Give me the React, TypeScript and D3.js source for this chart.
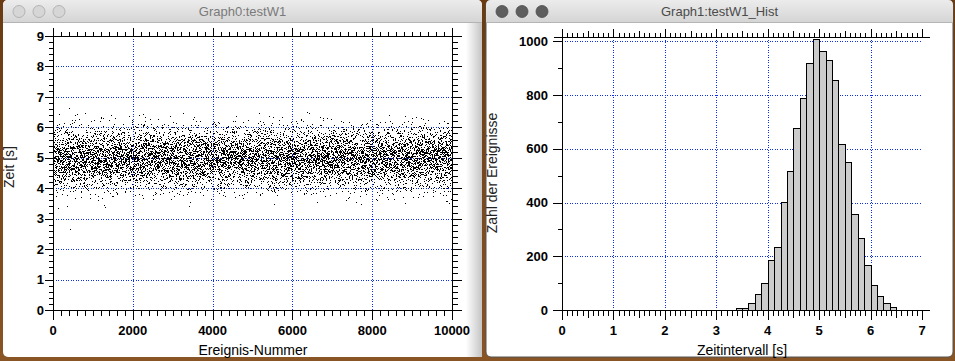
import React, { useMemo } from "react";
import * as d3 from "d3";

// ---- data ----
// histogram: counts per 0.125 s bin starting at 3.375 s
const histBinStarts = [3.375, 3.5, 3.625, 3.75, 3.875, 4.0, 4.125, 4.25, 4.375, 4.5, 4.625, 4.75, 4.875, 5.0, 5.125, 5.25, 5.375, 5.5, 5.625, 5.75, 5.875, 6.0, 6.125, 6.25, 6.375];
const histCounts = [6, 9, 27, 60, 101, 187, 235, 403, 516, 679, 790, 921, 1010, 965, 929, 857, 619, 552, 359, 269, 168, 94, 53, 27, 13];
const histBinWidth = 0.125;
// a few isolated scatter points visible outside the histogram range
const outlierIndex = [426, 400, 125];
const outlierValue = [2.66, 6.63, 3.36];
const eventCount = 10000;

const leftXTicks = [0, 2000, 4000, 6000, 8000, 10000];
const leftYTicks = [0, 1, 2, 3, 4, 5, 6, 7, 8, 9];
const rightXTicks = [0, 1, 2, 3, 4, 5, 6, 7];
const rightYTicks = [0, 200, 400, 600, 800, 1000];

const FONT = "'Liberation Sans', Arial, Helvetica, sans-serif";
const GRID = "#0a2fe6";

// Scatter values come from the histogram bins (each bin's count spread across it),
// placed in a fixed, seeded order along the event number.
function buildScatter() {
  const vals: number[] = [];
  histCounts.forEach((c, i) => {
    for (let k = 0; k < c; k++) vals.push(histBinStarts[i] + ((k + 0.5) / c) * histBinWidth);
  });
  let s = 12345;
  const rnd = () => {
    s |= 0; s = (s + 0x6d2b79f5) | 0;
    let t = Math.imul(s ^ (s >>> 15), 1 | s);
    t = (t + Math.imul(t ^ (t >>> 7), 61 | t)) ^ t;
    return ((t ^ (t >>> 14)) >>> 0) / 4294967296;
  };
  for (let i = vals.length - 1; i > 0; i--) {
    const j = Math.floor(rnd() * (i + 1));
    const tmp = vals[i]; vals[i] = vals[j]; vals[j] = tmp;
  }
  const pts = vals.map((v, k) => ({ i: (k * eventCount) / vals.length, v }));
  outlierIndex.forEach((idx, k) => pts.push({ i: idx, v: outlierValue[k] }));
  return pts;
}

type AxisProps = {
  orient: "bottom" | "top" | "left" | "right";
  scale: d3.ScaleLinear<number, number>;
  pos: number;
  majors: number[];
  minors: number[];
  mediums?: number[];
  labels?: boolean;
  majorLen?: number;
};

function Axis({ orient, scale, pos, majors, minors, mediums = [], labels = false, majorLen = 9 }: AxisProps) {
  const [r0, r1] = scale.range();
  const lo = Math.min(r0, r1) - 8;
  const hi = Math.max(r0, r1) + 8;
  const horiz = orient === "bottom" || orient === "top";
  const sign = orient === "bottom" || orient === "right" ? 1 : -1;
  const p = Math.round(pos) + 0.5;
  const tick = (v: number, len: number, key: string) => {
    const t = Math.round(scale(v)) + 0.5;
    return horiz ? (
      <line key={key} x1={t} x2={t} y1={p} y2={p + sign * len} stroke="#000" />
    ) : (
      <line key={key} y1={t} y2={t} x1={p} x2={p + sign * len} stroke="#000" />
    );
  };
  return (
    <g shapeRendering="crispEdges">
      {horiz ? (
        <line x1={lo} x2={hi} y1={p} y2={p} stroke="#000" />
      ) : (
        <line y1={lo} y2={hi} x1={p} x2={p} stroke="#000" />
      )}
      {minors.map((v, k) => tick(v, 5, "mi" + k))}
      {mediums.map((v, k) => tick(v, 7, "me" + k))}
      {majors.map((v, k) => tick(v, majorLen, "ma" + k))}
      {labels &&
        majors.map((v, k) =>
          horiz ? (
            <text key={"l" + k} x={scale(v)} y={pos + 25} textAnchor="middle" fontFamily={FONT} fontWeight="bold" fontSize={13} fill="#000">
              {v}
            </text>
          ) : null
        )}
    </g>
  );
}

function TitleBar({ x, w, title, active }: { x: number; w: number; title: string; active: boolean }) {
  const lights = [16, 36, 56];
  return (
    <g>
      <path d={`M${x},22 L${x},5 Q${x},0 ${x + 5},0 L${x + w - 5},0 Q${x + w},0 ${x + w},5 L${x + w},22 Z`} fill="url(#tbar)" />
      <line x1={x} x2={x + w} y1={22.5} y2={22.5} stroke="#b4b4b4" />
      {lights.map((cx, k) => (
        <circle key={k} cx={x + cx} cy={11.5} r={6} fill={active ? "#5e5e5e" : "#d6d6d6"} stroke={active ? "#4c4c4c" : "#a8a8a8"} strokeWidth={0.8} />
      ))}
      <text x={x + w / 2} y={16} textAnchor="middle" fontFamily={FONT} fontSize={13} fill={active ? "#4a4a4a" : "#7a7a7a"}>
        {title}
      </text>
    </g>
  );
}

export default function App() {
  const scatter = useMemo(buildScatter, []);

  // left graph
  const lx = d3.scaleLinear().domain([0, 10000]).range([53, 452]);
  const ly = d3.scaleLinear().domain([0, 9]).range([310, 36]);
  const lxMinor = d3.range(0, 10001, 200).filter((v) => v % 2000 !== 0);
  const lyMinor = d3.range(0, 45).map((k) => k * 0.2).filter((v, k) => k % 5 !== 0);

  // right graph
  const rx = d3.scaleLinear().domain([0, 7]).range([562, 922]);
  const ry = d3.scaleLinear().domain([0, 1016]).range([310, 37]);
  const rxMinor = d3.range(0, 71).filter((k) => k % 5 !== 0).map((k) => k / 10);
  const rxMed = d3.range(0, 7).map((k) => k + 0.5);
  const ryMinor = d3.range(100, 1016, 200);

  return (
    <div style={{ position: "absolute", left: 0, top: 0, width: 955, height: 361 }}>
      <svg width={955} height={361} style={{ display: "block" }}>
        <defs>
          <linearGradient id="tbar" x1="0" x2="0" y1="0" y2="1">
            <stop offset="0" stopColor="#ececec" />
            <stop offset="1" stopColor="#d5d5d5" />
          </linearGradient>
          <linearGradient id="edge" x1="0" x2="1" y1="0" y2="0">
            <stop offset="0" stopColor="#ffffff" />
            <stop offset="1" stopColor="#c4c4c4" />
          </linearGradient>
          <linearGradient id="desk" x1="0" x2="0" y1="0" y2="1">
            <stop offset="0" stopColor="#6a3a12" />
            <stop offset="1" stopColor="#8a5524" />
          </linearGradient>
        </defs>
        <rect x={0} y={0} width={955} height={361} fill="url(#desk)" />

        {/* left window */}
        <rect x={3} y={0} width={479} height={357} rx={5} fill="#ffffff" />
        <rect x={466} y={22} width={16} height={335} fill="url(#edge)" />
        <TitleBar x={3} w={479} title="Graph0:testW1" active={false} />

        {/* right window */}
        <rect x={486} y={0} width={467} height={357} rx={5} fill="#ffffff" stroke="#555" strokeWidth={1} />
        <TitleBar x={486} w={467} title="Graph1:testW1_Hist" active={true} />

        {/* ---- left graph ---- */}
        <g shapeRendering="crispEdges" stroke={GRID} strokeDasharray="1,1.5">
          {leftXTicks.slice(1, -1).map((v) => (
            <line key={"gx" + v} x1={Math.round(lx(v)) + 0.5} x2={Math.round(lx(v)) + 0.5} y1={36} y2={310} />
          ))}
          {leftYTicks.slice(1, -1).map((v) => (
            <line key={"gy" + v} y1={Math.round(ly(v)) + 0.5} y2={Math.round(ly(v)) + 0.5} x1={53} x2={452} />
          ))}
        </g>
        <g fill="#000" shapeRendering="crispEdges">
          {scatter.map((p, k) => (
            <rect key={k} x={Math.round(lx(p.i))} y={Math.round(ly(p.v))} width={1} height={1} />
          ))}
        </g>
        <Axis orient="bottom" scale={lx} pos={310} majors={leftXTicks} minors={lxMinor} labels />
        <Axis orient="top" scale={lx} pos={36} majors={leftXTicks} minors={lxMinor} />
        <Axis orient="left" scale={ly} pos={53} majors={leftYTicks} minors={lyMinor} />
        <Axis orient="right" scale={ly} pos={452} majors={leftYTicks} minors={lyMinor} />
        {leftYTicks.map((v) => (
          <text key={"ly" + v} x={44} y={ly(v)} dy="0.36em" textAnchor="end" fontFamily={FONT} fontWeight="bold" fontSize={13} fill="#000">
            {v}
          </text>
        ))}
        <text x={253} y={355} textAnchor="middle" fontFamily={FONT} fontSize={14} fill="#000">
          Ereignis-Nummer
        </text>
        <text transform="translate(14,167) rotate(-90)" textAnchor="middle" fontFamily={FONT} fontSize={14} fill="#222">
          Zeit [s]
        </text>

        {/* ---- right graph ---- */}
        <g shapeRendering="crispEdges" stroke={GRID} strokeDasharray="1,1.5">
          {rightXTicks.slice(1, -1).map((v) => (
            <line key={"rgx" + v} x1={Math.round(rx(v)) + 0.5} x2={Math.round(rx(v)) + 0.5} y1={37} y2={310} />
          ))}
          {rightYTicks.slice(1).map((v) => (
            <line key={"rgy" + v} y1={Math.round(ry(v)) + 0.5} y2={Math.round(ry(v)) + 0.5} x1={562} x2={922} />
          ))}
        </g>
        <g shapeRendering="crispEdges">
          {histCounts.map((c, i) => {
            const x0 = Math.round(rx(histBinStarts[i]));
            const x1 = Math.round(rx(histBinStarts[i] + histBinWidth));
            const y0 = Math.round(ry(c));
            return (
              <rect key={"b" + i} x={x0 + 0.5} y={y0 + 0.5} width={x1 - x0} height={Math.round(ry(0)) - y0} fill="#cccccc" stroke="#000" strokeWidth={1.2} />
            );
          })}
        </g>
        <Axis orient="bottom" scale={rx} pos={310} majors={rightXTicks} minors={rxMinor} mediums={rxMed} labels />
        <Axis orient="top" scale={rx} pos={37} majors={rightXTicks} minors={rxMinor} mediums={rxMed} />
        <Axis orient="left" scale={ry} pos={562} majors={rightYTicks} minors={ryMinor} majorLen={10} />
        {rightYTicks.map((v) => (
          <text key={"ry" + v} x={548} y={ry(v)} dy="0.36em" textAnchor="end" fontFamily={FONT} fontWeight="bold" fontSize={13} fill="#000">
            {v}
          </text>
        ))}
        <text x={742} y={355} textAnchor="middle" fontFamily={FONT} fontSize={14} fill="#000">
          Zeitintervall [s]
        </text>
        <text transform="translate(497,173) rotate(-90)" textAnchor="middle" fontFamily={FONT} fontSize={14} fill="#222">
          Zahl der Ereignisse
        </text>
      </svg>
    </div>
  );
}
